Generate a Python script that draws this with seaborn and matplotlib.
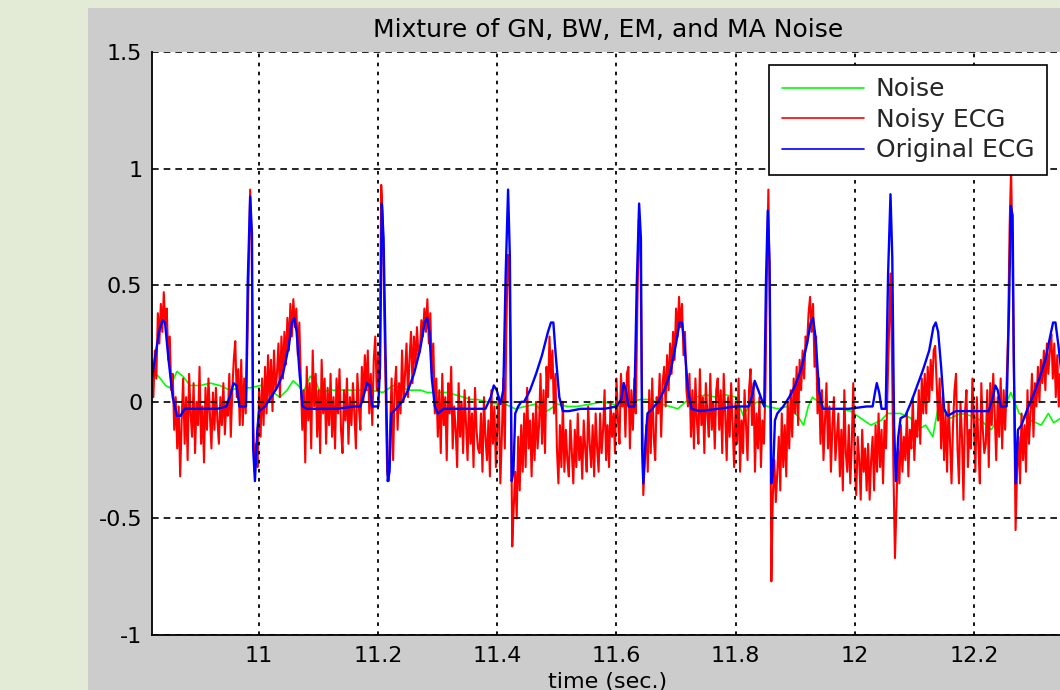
import numpy as np
import pandas as pd
import matplotlib
matplotlib.use("Agg")
import matplotlib.pyplot as plt
import seaborn as sns

# ---------------- data ----------------
title_text = "Mixture of GN, BW, EM, and MA Noise"
xlabel_text = "time (sec.)"
series_names = ["Noise", "Noisy ECG", "Original ECG"]
x_ticks = [11.0, 11.2, 11.4, 11.6, 11.8, 12.0, 12.2]
x_tick_labels = ["11", "11.2", "11.4", "11.6", "11.8", "12", "12.2"]
y_ticks = [-1.0, -0.5, 0.0, 0.5, 1.0, 1.5]
y_tick_labels = ["-1", "-0.5", "0", "0.5", "1", "1.5"]

# Noisy ECG, sampled every 2.5 ms starting at t = 10.82 s (one row = 50 ms)
noisy_start = 10.82
noisy_step = 0.0025
noisy_ecg = [
    0.18, 0.02, 0.22, 0.10, 0.38, 0.25, 0.42, 0.30, 0.47, 0.33, 0.40, 0.18, 0.28, 0.05, 0.12, -0.12, 0.02, -0.20, -0.02, -0.32,
    -0.08, 0.10, -0.18, 0.02, -0.25, 0.12, -0.05, -0.15, 0.08, -0.22, 0.00, -0.10, 0.15, -0.18, -0.02, -0.26, 0.06, -0.12, 0.10, -0.06,
    -0.20, 0.04, -0.12, 0.06, -0.08, -0.18, 0.02, -0.10, 0.08, -0.14, 0.00, -0.06, 0.12, -0.15, 0.05, 0.18, 0.26, 0.02, 0.14, -0.10,
    0.18, -0.10, 0.10, -0.05, 0.20, 0.55, 0.91, 0.70, -0.10, -0.30, -0.18, -0.28, 0.05, -0.15, 0.10, -0.10, 0.15, -0.05, 0.20, 0.00,
    0.18, -0.04, 0.22, 0.05, 0.12, 0.25, 0.02, 0.28, 0.10, 0.30, 0.16, 0.36, 0.22, 0.42, 0.28, 0.44, 0.32, 0.40, 0.20, 0.34,
    0.10, -0.12, 0.05, -0.26, 0.15, -0.08, 0.08, -0.20, 0.22, -0.02, 0.12, -0.15, 0.05, -0.22, 0.18, -0.05, 0.10, -0.18, 0.06, -0.10,
    0.12, -0.15, 0.02, -0.20, 0.10, -0.05, 0.14, -0.12, -0.22, 0.05, -0.08, 0.10, -0.18, 0.02, -0.10, 0.08, -0.05, -0.20, 0.12, -0.02,
    -0.12, 0.15, 0.00, 0.20, 0.05, 0.22, -0.05, 0.12, -0.10, 0.18, 0.28, 0.05, 0.20, 0.10, 0.93, 0.80, 0.40, 0.05, -0.30, -0.34,
    -0.10, 0.10, -0.25, 0.05, 0.15, -0.12, 0.08, -0.05, 0.22, 0.00, 0.12, 0.25, 0.02, 0.18, 0.30, 0.08, 0.28, 0.15, 0.32, 0.20,
    0.22, 0.35, 0.28, 0.40, 0.30, 0.44, 0.25, 0.38, 0.12, 0.25, -0.05, 0.10, -0.15, 0.05, -0.22, 0.12, -0.10, 0.02, -0.25, 0.08,
    -0.05, 0.15, -0.20, -0.02, -0.12, -0.28, 0.08, -0.15, 0.00, -0.22, 0.05, -0.10, -0.25, 0.02, -0.18, -0.05, -0.28, 0.06, -0.12, -0.20,
    -0.22, -0.05, -0.30, 0.02, -0.15, -0.25, -0.08, -0.32, 0.05, -0.18, -0.02, -0.28, -0.10, 0.02, -0.35, -0.15, 0.10, -0.20, 0.30, 0.63,
    0.58, 0.10, -0.62, -0.45, -0.30, -0.50, -0.15, -0.38, -0.10, -0.30, -0.05, -0.28, 0.06, -0.20, -0.08, -0.32, -0.05, -0.25, 0.00, -0.20,
    -0.10, 0.12, -0.18, 0.05, -0.22, 0.15, 0.02, 0.28, 0.10, 0.22, -0.05, 0.12, -0.20, -0.35, -0.10, -0.28, 0.00, -0.30, -0.12, -0.25,
    -0.32, -0.08, -0.22, -0.35, -0.12, -0.28, -0.05, -0.25, -0.15, -0.33, -0.08, -0.20, -0.30, -0.02, -0.18, -0.28, -0.10, -0.32, -0.05, -0.20,
    -0.30, -0.05, -0.22, -0.12, 0.05, -0.25, -0.10, -0.28, 0.00, -0.15, -0.05, -0.22, 0.10, -0.08, -0.18, 0.12, -0.02, 0.08, -0.15, 0.12,
    0.15, -0.20, 0.05, -0.12, 0.10, -0.05, 0.40, 0.78, 0.70, 0.10, -0.40, -0.25, -0.10, -0.30, 0.05, -0.22, 0.10, -0.15, -0.25, 0.02,
    -0.05, 0.12, -0.15, 0.08, 0.15, -0.02, 0.20, 0.05, 0.25, 0.12, 0.30, 0.18, 0.40, 0.28, 0.45, 0.32, 0.42, 0.20, 0.30, 0.05,
    -0.02, 0.12, -0.15, 0.05, -0.20, 0.10, -0.08, -0.18, 0.14, -0.10, 0.02, -0.22, 0.08, -0.05, -0.15, 0.12, -0.12, 0.00, -0.20, 0.05,
    0.10, -0.12, 0.05, -0.22, 0.12, -0.05, -0.25, 0.02, -0.15, 0.08, -0.10, -0.28, 0.00, -0.18, 0.10, -0.30, -0.08, -0.22, 0.05, -0.10,
    -0.25, 0.05, 0.14, -0.10, 0.08, -0.30, -0.05, -0.20, 0.02, -0.28, -0.08, -0.18, 0.05, 0.55, 0.91, 0.40, -0.77, -0.40, -0.25, -0.43,
    -0.30, -0.15, -0.38, -0.05, -0.28, -0.10, -0.32, 0.00, -0.20, 0.05, -0.15, 0.10, -0.05, 0.15, -0.10, 0.18, 0.05, 0.22, 0.10, 0.28,
    0.25, 0.38, 0.45, 0.30, 0.42, 0.15, 0.28, -0.05, 0.10, -0.18, 0.05, -0.25, -0.08, 0.08, -0.20, -0.02, -0.30, -0.10, 0.02, -0.25,
    -0.15, -0.05, -0.32, -0.12, -0.38, 0.05, -0.22, -0.30, -0.10, -0.35, -0.18, 0.08, -0.28, -0.40, -0.15, -0.25, -0.42, -0.12, -0.30, -0.20,
    -0.38, -0.18, -0.42, -0.25, -0.15, -0.38, -0.10, -0.30, -0.05, -0.28, -0.12, -0.35, -0.08, -0.20, 0.05, 0.30, 0.55, 0.20, -0.30, -0.67,
    -0.45, -0.20, -0.35, -0.10, -0.30, -0.15, -0.25, -0.05, -0.32, -0.12, -0.20, 0.02, -0.25, -0.08, -0.15, 0.05, -0.18, 0.10, -0.05, 0.12,
    -0.05, 0.15, 0.00, 0.18, 0.05, 0.22, 0.24, 0.08, -0.08, 0.10, -0.20, 0.02, -0.25, -0.05, -0.30, 0.00, -0.18, -0.35, -0.10, 0.05,
    0.12, -0.20, -0.35, 0.00, -0.15, -0.42, -0.05, 0.05, -0.28, -0.12, -0.20, 0.10, -0.08, -0.30, 0.02, -0.18, -0.35, 0.08, -0.12, -0.22,
    -0.18, 0.05, -0.28, 0.08, -0.10, 0.12, -0.05, -0.25, 0.02, -0.15, 0.10, -0.20, 0.05, -0.12, 0.08, 0.30, 0.75, 1.00, 0.60, 0.05,
    -0.55, -0.30, -0.15, -0.35, -0.05, -0.25, -0.10, -0.30, 0.05, -0.18, -0.05, 0.12, -0.15, 0.08, -0.02, 0.15, 0.00, 0.18, 0.08, 0.22,
    0.05, 0.25, 0.12, 0.22, 0.29, 0.10, 0.25, 0.02, 0.20, -0.02, 0.12, 0.05, -0.05,
]

# Original ECG (key points)
orig_time = [
    10.820, 10.826, 10.832, 10.838, 10.842, 10.848, 10.855, 10.862, 10.868, 10.875,
    10.900, 10.930, 10.945, 10.952, 10.957, 10.962, 10.967, 10.978, 10.981, 10.985,
    10.988, 10.990, 10.993, 10.997, 11.000, 11.010, 11.020, 11.030, 11.040, 11.050,
    11.055, 11.059, 11.063, 11.068, 11.073, 11.080, 11.100, 11.130, 11.160, 11.170,
    11.176, 11.181, 11.186, 11.190, 11.200, 11.203, 11.206, 11.209, 11.212, 11.216,
    11.219, 11.222, 11.230, 11.240, 11.250, 11.260, 11.270, 11.278, 11.282, 11.286,
    11.290, 11.295, 11.300, 11.310, 11.350, 11.380, 11.389, 11.394, 11.399, 11.405,
    11.410, 11.414, 11.418, 11.421, 11.424, 11.427, 11.430, 11.435, 11.440, 11.445,
    11.455, 11.465, 11.475, 11.485, 11.490, 11.494, 11.498, 11.504, 11.510, 11.520,
    11.540, 11.560, 11.580, 11.600, 11.608, 11.612, 11.616, 11.620, 11.630, 11.634,
    11.638, 11.641, 11.643, 11.645, 11.648, 11.652, 11.660, 11.670, 11.680, 11.690,
    11.700, 11.706, 11.710, 11.714, 11.720, 11.726, 11.740, 11.770, 11.800, 11.822,
    11.828, 11.832, 11.838, 11.848, 11.851, 11.854, 11.857, 11.860, 11.863, 11.866,
    11.870, 11.880, 11.890, 11.900, 11.910, 11.920, 11.926, 11.930, 11.934, 11.940,
    11.946, 11.960, 11.990, 12.020, 12.030, 12.034, 12.037, 12.041, 12.045, 12.052,
    12.056, 12.060, 12.063, 12.066, 12.069, 12.073, 12.077, 12.085, 12.095, 12.105,
    12.115, 12.125, 12.132, 12.136, 12.140, 12.145, 12.150, 12.156, 12.170, 12.200,
    12.225, 12.232, 12.236, 12.240, 12.245, 12.255, 12.259, 12.262, 12.265, 12.267,
    12.270, 12.274, 12.280, 12.290, 12.300, 12.310, 12.320, 12.328, 12.333, 12.337,
    12.342, 12.348, 12.352,
]
orig_ecg = [
    0.10, 0.20, 0.30, 0.35, 0.34, 0.18, 0.02, -0.06, -0.06, -0.03,
    -0.03, -0.03, -0.02, 0.03, 0.08, 0.07, -0.02, -0.02, 0.52, 0.88,
    0.72, -0.20, -0.34, -0.12, -0.04, -0.02, 0.02, 0.06, 0.12, 0.24,
    0.34, 0.36, 0.30, 0.12, -0.02, -0.03, -0.03, -0.03, -0.02, -0.02,
    0.03, 0.08, 0.07, -0.02, -0.02, 0.15, 0.85, 0.70, 0.25, -0.34,
    -0.30, -0.05, -0.03, 0.00, 0.05, 0.12, 0.22, 0.34, 0.36, 0.30,
    0.10, -0.02, -0.05, -0.03, -0.03, -0.03, 0.02, 0.07, 0.05, -0.01,
    0.05, 0.55, 0.91, 0.62, -0.34, -0.30, -0.05, -0.02, 0.00, 0.00,
    0.05, 0.12, 0.20, 0.30, 0.34, 0.34, 0.20, 0.02, -0.04, -0.04,
    -0.03, -0.03, -0.03, -0.02, 0.01, 0.08, 0.05, -0.02, -0.02, 0.50,
    0.85, 0.70, -0.20, -0.35, -0.20, -0.05, -0.03, 0.00, 0.05, 0.12,
    0.25, 0.34, 0.34, 0.25, 0.05, -0.03, -0.04, -0.03, -0.02, -0.02,
    0.03, 0.09, 0.05, -0.02, 0.52, 0.82, 0.60, -0.35, -0.30, -0.08,
    -0.05, -0.02, 0.02, 0.07, 0.14, 0.25, 0.34, 0.36, 0.28, 0.05,
    -0.03, -0.03, -0.03, -0.02, -0.02, 0.04, 0.08, 0.04, -0.03, -0.03,
    0.55, 0.89, 0.62, -0.10, -0.34, -0.15, -0.07, -0.06, 0.00, 0.07,
    0.14, 0.22, 0.32, 0.34, 0.30, 0.15, -0.03, -0.06, -0.04, -0.04,
    -0.04, 0.02, 0.07, 0.05, -0.02, -0.02, 0.40, 0.84, 0.80, 0.20,
    -0.35, -0.12, -0.10, -0.03, 0.03, 0.10, 0.18, 0.28, 0.34, 0.34,
    0.24, 0.10, 0.00,
]

# Noise component (key points)
noise_time = [
    10.820, 10.827, 10.834, 10.843, 10.850, 10.862, 10.872, 10.884, 10.901, 10.918,
    10.934, 10.951, 10.968, 10.985, 11.002, 11.018, 11.035, 11.047, 11.057, 11.066,
    11.074, 11.086, 11.096, 11.103, 11.119, 11.136, 11.153, 11.170, 11.187, 11.208,
    11.225, 11.237, 11.254, 11.271, 11.282, 11.299, 11.316, 11.329, 11.343, 11.355,
    11.366, 11.383, 11.400, 11.413, 11.430, 11.447, 11.464, 11.477, 11.489, 11.501,
    11.518, 11.534, 11.556, 11.578, 11.593, 11.607, 11.624, 11.640, 11.657, 11.674,
    11.690, 11.703, 11.716, 11.733, 11.750, 11.766, 11.783, 11.800, 11.813, 11.822,
    11.837, 11.854, 11.871, 11.887, 11.904, 11.914, 11.922, 11.929, 11.939, 11.951,
    11.976, 11.993, 12.010, 12.027, 12.044, 12.055, 12.077, 12.094, 12.106, 12.119,
    12.131, 12.141, 12.153, 12.161, 12.178, 12.195, 12.212, 12.229, 12.245, 12.262,
    12.276, 12.287, 12.313, 12.325, 12.334, 12.346,
]
noise = [
    0.10, 0.12, 0.10, 0.07, 0.06, 0.13, 0.11, 0.07, 0.07, 0.08,
    0.07, 0.05, 0.06, 0.06, 0.07, 0.05, 0.02, 0.05, 0.09, 0.07,
    0.04, 0.11, 0.08, 0.04, 0.05, 0.05, 0.05, 0.05, 0.05, 0.04,
    0.07, 0.06, 0.05, 0.05, 0.04, 0.04, 0.04, 0.03, 0.02, 0.01,
    0.01, 0.00, -0.01, -0.01, -0.03, -0.02, -0.01, -0.05, -0.03, -0.01,
    -0.02, -0.02, -0.01, 0.00, -0.01, -0.02, 0.00, 0.01, 0.01, -0.01,
    -0.02, -0.03, 0.00, 0.02, 0.03, 0.02, 0.03, 0.02, -0.06, -0.02,
    0.00, -0.02, -0.03, -0.02, -0.06, -0.10, -0.02, 0.02, 0.00, -0.03,
    -0.03, -0.04, -0.07, -0.10, -0.08, -0.05, -0.05, -0.07, -0.12, -0.10,
    -0.15, -0.01, -0.05, -0.07, -0.05, -0.06, -0.08, -0.12, -0.06, 0.04,
    -0.05, -0.07, -0.10, -0.05, -0.09, -0.07,
]

# ---------------- build tables ----------------
noisy_time = np.round(noisy_start + noisy_step * np.arange(len(noisy_ecg)), 5)
df_noise = pd.DataFrame({"t": noise_time, "v": noise})
df_noisy = pd.DataFrame({"t": noisy_time, "v": noisy_ecg})
df_orig = pd.DataFrame({"t": orig_time, "v": orig_ecg})

# ---------------- styling ----------------
sns.set_style("white")
plt.rcParams["font.family"] = ["DejaVu Sans"]
plt.rcParams["font.size"] = 16

fig = plt.figure(figsize=(10.6, 6.9), dpi=100, facecolor="#e3ead6")
bg = fig.add_axes([88 / 1060, 0, 1 - 88 / 1060, 1 - 8 / 690], zorder=-5)
bg.set_facecolor("#cccccc")
bg.set_xticks([])
bg.set_yticks([])
for s in bg.spines.values():
    s.set_visible(False)

ax = fig.add_axes([152 / 1060, 1 - 635 / 690, 912 / 1060, 583 / 690], zorder=1)
ax.set_facecolor("white")

sns.lineplot(data=df_noise, x="t", y="v", ax=ax, color="#00ff00", lw=1.2,
             sort=False, estimator=None, label=series_names[0])
sns.lineplot(data=df_noisy, x="t", y="v", ax=ax, color="#ff0000", lw=1.5,
             sort=False, estimator=None, label=series_names[1])
sns.lineplot(data=df_orig, x="t", y="v", ax=ax, color="#0000ff", lw=1.7,
             sort=False, estimator=None, label=series_names[2])

ax.set_xlim(10.8202, 12.3513)
ax.set_ylim(-1.0, 1.5)
ax.set_xticks(x_ticks)
ax.set_xticklabels(x_tick_labels)
ax.set_yticks(y_ticks)
ax.set_yticklabels(y_tick_labels)
ax.tick_params(direction="in", length=5, width=1.2, colors="black",
               labelsize=16, top=False, right=False)
ax.tick_params(axis="x", pad=8)
ax.tick_params(axis="y", pad=7)

ax.set_axisbelow(False)
ax.xaxis.grid(True, color="black", linestyle=(0, (2, 3)), linewidth=1.3)
ax.yaxis.grid(True, color="black", linestyle=(0, (4, 3)), linewidth=1.2)

for side in ["top", "right"]:
    ax.spines[side].set_visible(False)
for side in ["left", "bottom"]:
    ax.spines[side].set_color("black")
    ax.spines[side].set_linewidth(1.3)

ax.set_title(title_text, fontsize=18, pad=11, color="black")
ax.set_xlabel(xlabel_text, fontsize=16, labelpad=4, color="black")
ax.set_ylabel("")

leg = ax.legend(loc="upper right", bbox_to_anchor=(0.981, 0.978),
                borderaxespad=0, fancybox=False, framealpha=1,
                edgecolor="black", fontsize=18, handlelength=3.3,
                handletextpad=0.45, labelspacing=0.26, borderpad=0.5)
leg.get_frame().set_linewidth(1.2)
for line in leg.get_lines():
    line.set_linewidth(1.2)

fig.savefig("out.png", dpi=100, facecolor=fig.get_facecolor())
